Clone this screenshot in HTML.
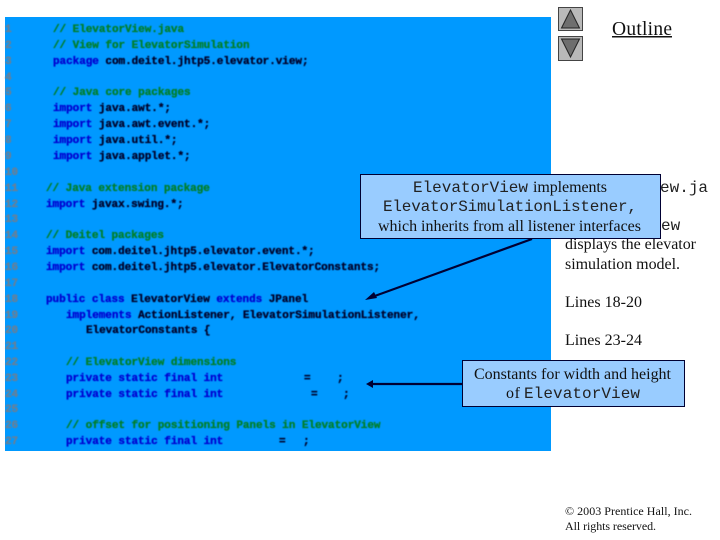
<!DOCTYPE html>
<html><head><meta charset="utf-8"><style>
html,body{margin:0;padding:0;background:#fff}
svg{display:block}
.c text{font:bold 11px "Liberation Mono",monospace;letter-spacing:-.05px;white-space:pre;stroke-width:.35px}
.n{fill:#6b7f94;stroke:#6b7f94}.g{fill:#007f2a;stroke:#007f2a}.k{fill:#0000d0;stroke:#0000d0}.t{fill:#000028;stroke:#000028}
.s{font:16px "Liberation Serif",serif;fill:#111}
.m{font:16px "Liberation Mono",monospace;fill:#222}
</style></head><body>
<svg width="720" height="540" viewBox="0 0 720 540" xmlns="http://www.w3.org/2000/svg">
<rect width="720" height="540" fill="#fff"/>
<rect x="5" y="17" width="546" height="434" fill="#0099ff"/>
<g class="c" style="filter:blur(.45px)">
<text class="n" x="5" y="32">1</text><text class="n" x="5" y="48">2</text><text class="n" x="5" y="64">3</text><text class="n" x="5" y="80">4</text><text class="n" x="5" y="95">5</text><text class="n" x="5" y="111">6</text><text class="n" x="5" y="127">7</text><text class="n" x="5" y="143">8</text><text class="n" x="5" y="159">9</text><text class="n" x="5" y="175">10</text><text class="n" x="5" y="191">11</text><text class="n" x="5" y="207">12</text><text class="n" x="5" y="222">13</text><text class="n" x="5" y="238">14</text><text class="n" x="5" y="254">15</text><text class="n" x="5" y="270">16</text><text class="n" x="5" y="286">17</text><text class="n" x="5" y="302">18</text><text class="n" x="5" y="318">19</text><text class="n" x="5" y="333">20</text><text class="n" x="5" y="349">21</text><text class="n" x="5" y="365">22</text><text class="n" x="5" y="381">23</text><text class="n" x="5" y="397">24</text><text class="n" x="5" y="412">25</text><text class="n" x="5" y="428">26</text><text class="n" x="5" y="444">27</text>
<text class="g" x="53" y="32">// ElevatorView.java</text>
<text class="g" x="53" y="48">// View for ElevatorSimulation</text>
<text x="53" y="64"><tspan class="k">package</tspan><tspan class="t"> com.deitel.jhtp5.elevator.view;</tspan></text>
<text class="g" x="53" y="95">// Java core packages</text>
<text x="53" y="111"><tspan class="k">import</tspan><tspan class="t"> java.awt.*;</tspan></text>
<text x="53" y="127"><tspan class="k">import</tspan><tspan class="t"> java.awt.event.*;</tspan></text>
<text x="53" y="143"><tspan class="k">import</tspan><tspan class="t"> java.util.*;</tspan></text>
<text x="53" y="159"><tspan class="k">import</tspan><tspan class="t"> java.applet.*;</tspan></text>
<text class="g" x="46" y="191">// Java extension package</text>
<text x="46" y="207"><tspan class="k">import</tspan><tspan class="t"> javax.swing.*;</tspan></text>
<text class="g" x="46" y="238">// Deitel packages</text>
<text x="46" y="254"><tspan class="k">import</tspan><tspan class="t"> com.deitel.jhtp5.elevator.event.*;</tspan></text>
<text x="46" y="270"><tspan class="k">import</tspan><tspan class="t"> com.deitel.jhtp5.elevator.ElevatorConstants;</tspan></text>
<text x="46" y="302"><tspan class="k">public class</tspan><tspan class="t"> ElevatorView </tspan><tspan class="k">extends</tspan><tspan class="t"> JPanel</tspan></text>
<text x="66" y="318"><tspan class="k">implements</tspan><tspan class="t"> ActionListener, ElevatorSimulationListener,</tspan></text>
<text class="t" x="86" y="333">ElevatorConstants {</text>
<text class="g" x="66" y="365">// ElevatorView dimensions</text>
<text class="k" x="66" y="381">private static final int</text>
<text class="t" x="304" y="381">=</text><text class="t" x="337" y="381">;</text>
<text class="k" x="66" y="397">private static final int</text>
<text class="t" x="311" y="397">=</text><text class="t" x="343" y="397">;</text>
<text class="g" x="66" y="428">// offset for positioning Panels in ElevatorView</text>
<text class="k" x="66" y="444">private static final int</text>
<text class="t" x="279" y="444">=</text><text class="t" x="303" y="444">;</text>
</g>

<!-- nav buttons -->
<rect x="558.5" y="7.5" width="24" height="23" fill="#b9b9b9" stroke="#444"/>
<polygon points="570.5,10 561.5,28 579.5,28" fill="#6e6e6e" stroke="#222"/>
<rect x="558.5" y="36.5" width="24" height="24" fill="#b9b9b9" stroke="#444"/>
<polygon points="561.5,39 579.5,39 570.5,57" fill="#6e6e6e" stroke="#222"/>
<text x="612" y="35" textLength="60" lengthAdjust="spacing" style="font:19.5px 'Liberation Serif',serif;fill:#111">Outline</text>
<rect x="612" y="36" width="60" height="1.5" fill="#111"/>

<!-- side text -->
<text class="m" x="564" y="192">ElevatorView.ja</text>
<text class="m" x="565" y="230">ElevatorView</text>
<text class="s" x="565" y="249" textLength="131" lengthAdjust="spacing">displays the elevator</text>
<text class="s" x="565" y="269" textLength="115" lengthAdjust="spacing">simulation model.</text>
<text class="s" x="565" y="307" textLength="77" lengthAdjust="spacing">Lines 18-20</text>
<text class="s" x="565" y="345" textLength="77" lengthAdjust="spacing">Lines 23-24</text>
<text x="565" y="515" textLength="127" lengthAdjust="spacing" style="font:12px 'Liberation Serif',serif;fill:#111">© 2003 Prentice Hall, Inc.</text>
<text x="565" y="530" textLength="91" lengthAdjust="spacing" style="font:12px 'Liberation Serif',serif;fill:#111">All rights reserved.</text>

<!-- arrows -->
<line x1="532" y1="239" x2="372" y2="297" stroke="#000033" stroke-width="2.2"/>
<polygon points="365,300 374,292 377,298" fill="#000033"/>
<line x1="462" y1="384" x2="372" y2="384" stroke="#000033" stroke-width="2.2"/>
<polygon points="366,384 373,380 373,388" fill="#000033"/>

<!-- callout 1 -->
<rect x="360.5" y="174.5" width="300" height="64" fill="#99ccff" stroke="#000033"/>
<text class="m" x="413" y="192" textLength="115" lengthAdjust="spacing">ElevatorView</text>
<text class="s" x="533" y="192" textLength="74" lengthAdjust="spacing">implements</text>
<text class="m" x="383" y="211" textLength="254" lengthAdjust="spacing">ElevatorSimulationListener,</text>
<text class="s" x="378" y="231" textLength="263" lengthAdjust="spacing">which inherits from all listener interfaces</text>

<!-- callout 2 -->
<rect x="462.5" y="360.5" width="222" height="46" fill="#99ccff" stroke="#000033"/>
<text class="s" x="474" y="379" textLength="197" lengthAdjust="spacing">Constants for width and height</text>
<text class="s" x="506" y="398" textLength="14" lengthAdjust="spacing">of</text>
<text class="m" x="524" y="398" textLength="116" lengthAdjust="spacing">ElevatorView</text>
</svg>
</body></html>
